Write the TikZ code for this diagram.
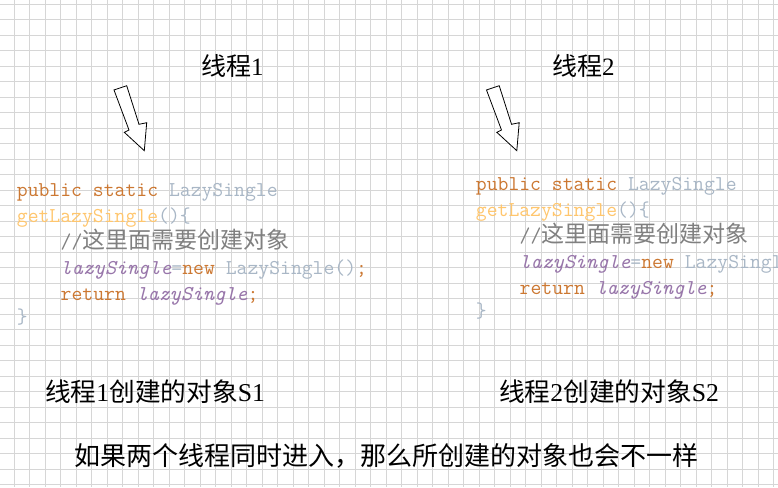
\documentclass[tikz,border=0pt]{standalone}
\usepackage{fontspec}
\setmainfont{Liberation Serif}
\newfontfamily\cjk{Noto Sans CJK SC}
\definecolor{gridc}{HTML}{D6D6D6}
\definecolor{kw}{HTML}{CC7832}
\definecolor{cls}{HTML}{A9B7C6}
\definecolor{meth}{HTML}{FFC66D}
\definecolor{cmt}{HTML}{808080}
\definecolor{fld}{HTML}{9876AA}
\newcommand\codefont{\ttfamily\fontsize{21.1}{24}\selectfont}
\newcommand\headfont{\fontsize{25.7}{28}\selectfont}
\newcommand\cmtcjk[1]{{\cjk\fontsize{23}{24}\selectfont #1}}
\newcommand\hcjk[1]{{\cjk #1}}
\tikzset{
  gridline/.style={draw=gridc, line width=0.9pt},
  code/.style={anchor=base west, inner sep=0pt, font=\codefont},
  head/.style={anchor=base, inner sep=0pt, font=\headfont, text=black},
  blockarrow/.style={draw=black, fill=white, line width=0.8pt, line join=miter}
}
\newcommand\codeblock{%
  \node[code] (l1) at (16.7,196) {\textcolor{kw}{public static }\textcolor{cls}{LazySingle}};
  \node[code] (l2) at (16.7,222) {\textcolor{meth}{getLazySingle}\textcolor{cls}{()\{}};
  \node[code] (l3) at (60.5,248) {\textcolor{cmt}{//\cmtcjk{这里面需要创建对象}}};
  \node[code] (l4) at (60.5,274.5) {\textcolor{fld}{\itshape lazySingle}\textcolor{cls}{=}\textcolor{kw}{new }\textcolor{cls}{LazySingle()}\textcolor{kw}{;}};
  \node[code] (l5) at (60.5,300.5) {\textcolor{kw}{return }\textcolor{fld}{\itshape lazySingle}\textcolor{kw}{;}};
  \node[code] (l6) at (16.7,323) {\textcolor{cls}{\}}};
}
\newcommand\blockarrowpath{(114,90) -- (126.7,85.7) -- (139,124.3) -- (146.7,122.7) -- (144.3,150.7) -- (124.3,132.3) -- (129,130) -- cycle}
\begin{document}
\begin{tikzpicture}[x=1pt,y=-1pt]
\useasboundingbox (0,0) rectangle (778,487);
\begin{scope}
\clip (0,0) rectangle (778,487);
\fill[white] (0,0) rectangle (778,487);
% grid
\foreach \i in {0,...,49} {\draw[gridline] (14.4+15.5*\i,0) -- (14.4+15.5*\i,487);}
\foreach \j in {0,...,31} {\draw[gridline] (0,4.3+15.5*\j) -- (778,4.3+15.5*\j);}
% block arrows
\draw[blockarrow] \blockarrowpath;
\begin{scope}[xshift=372.5pt]
\draw[blockarrow] \blockarrowpath;
\end{scope}
% headings
\node[head, font=\fontsize{25}{28}\selectfont] (t1) at (232.3,75) {\hcjk{线程}1};
\node[head, font=\fontsize{25}{28}\selectfont] (t2) at (583.3,75.7) {\hcjk{线程}2};
% code blocks
\begin{scope}[name prefix=a-]
\codeblock
\end{scope}
\begin{scope}[name prefix=b-, xshift=459pt, yshift=6pt]
\codeblock
\end{scope}
% captions
\node[head] (c1) at (155,401.7) {\hcjk{线程}1\hcjk{创建的对象}S1};
\node[head] (c2) at (609,401.7) {\hcjk{线程}2\hcjk{创建的对象}S2};
\node[head, font=\cjk\fontsize{26}{28}\selectfont] (bottom) at (386,465) {如果两个线程同时进入，那么所创建的对象也会不一样};
\end{scope}
\end{tikzpicture}
\end{document}
